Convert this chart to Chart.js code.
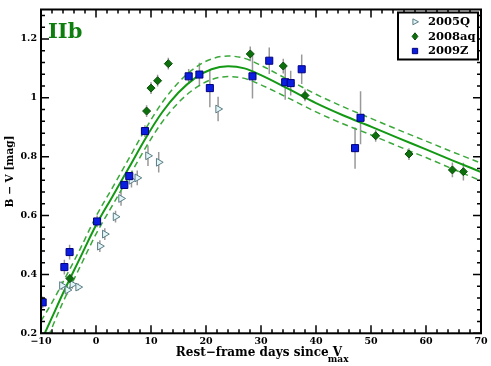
<!DOCTYPE html>
<html>
<head>
<meta charset="utf-8">
<script src="https://cdn.jsdelivr.net/npm/chart.js@4/dist/chart.umd.min.js"></script>
<style>
html, body { margin: 0; padding: 0; background: #fff; }
#wrap { width: 491px; height: 366px; }
</style>
</head>
<body>
<div id="wrap"><canvas id="bv-chart" width="491" height="366"></canvas></div>
<script>
// B-V colour curves of SNe IIb, days since V maximum
const q05Days = [-6.2, -5.2, -4.3, -3.25, 0.7, 1.6, 3.55, 4.55, 6.45, 7.5, 9.45, 11.4, 22.2];
const q05Color = [0.362, 0.347, 0.366, 0.357, 0.496, 0.537, 0.596, 0.658, 0.72, 0.728, 0.803, 0.781, 0.962];
const q05Err = [0.015, 0.015, 0.015, 0.012, 0.02, 0.02, 0.02, 0.025, 0.025, 0.025, 0.035, 0.035, 0.042];

const aq08Days = [-4.75, 9.2, 10.0, 11.2, 13.15, 28.05, 34.05, 38.0, 50.85, 56.9, 64.8, 66.8];
const aq08Color = [0.386, 0.955, 1.033, 1.058, 1.116, 1.149, 1.108, 1.008, 0.871, 0.809, 0.755, 0.749];
const aq08Err = [0.015, 0.02, 0.02, 0.02, 0.02, 0.025, 0.025, 0.02, 0.02, 0.02, 0.025, 0.03];

const z09Days = [-9.7, -5.75, -4.8, 0.2, 5.15, 6.05, 8.9, 16.85, 18.8, 20.7, 28.45, 31.5, 34.4, 35.4, 37.4, 47.1, 48.1];
const z09Color = [0.305, 0.425, 0.476, 0.58, 0.704, 0.734, 0.887, 1.073, 1.079, 1.033, 1.073, 1.126, 1.053, 1.05, 1.097, 0.829, 0.932];
const z09Err = [0.02, 0.025, 0.025, 0.02, 0.012, 0.012, 0.02, 0.025, 0.04, 0.065, 0.075, 0.045, 0.06, 0.042, 0.05, 0.07, 0.09];

// template fit and its band
const fitDays = [-10, -8, -6, -3, 0, 3, 6, 9, 12, 15, 18, 21, 24, 27, 30, 35, 40, 45, 50, 55, 60, 65, 70];
const fitMid = [0.172, 0.254, 0.336, 0.452, 0.567, 0.665, 0.763, 0.862, 0.95, 1.018, 1.067, 1.097, 1.107, 1.1, 1.077, 1.03, 0.982, 0.94, 0.902, 0.863, 0.825, 0.786, 0.748];
const fitUpper = [0.242, 0.304, 0.374, 0.482, 0.597, 0.695, 0.794, 0.894, 0.983, 1.052, 1.102, 1.132, 1.142, 1.134, 1.11, 1.061, 1.012, 0.969, 0.93, 0.891, 0.853, 0.815, 0.778];
const fitLower = [0.127, 0.219, 0.306, 0.422, 0.537, 0.635, 0.732, 0.83, 0.917, 0.984, 1.032, 1.062, 1.072, 1.066, 1.044, 0.999, 0.952, 0.911, 0.874, 0.835, 0.797, 0.757, 0.718];

const xTicks = [-10, 0, 10, 20, 30, 40, 50, 60, 70];
const yTicks = [0.2, 0.4, 0.6, 0.8, 1, 1.2];

const SERIF = '"DejaVu Serif", "Liberation Serif", serif';
const toPoints = (xs, ys) => xs.map((v, i) => ({ x: v, y: ys[i] }));

const styles = {
  q05: { pointStyle: 'triangle', rotation: 90, radius: 4.5, fill: '#e2f5f7', stroke: '#5a7c84' },
  aq08: { pointStyle: 'rectRot', rotation: 0, radius: 4, fill: '#0d700d', stroke: '#0a4d0a' },
  z09: { pointStyle: 'rect', rotation: 0, radius: 5, fill: '#0b1ee0', stroke: '#000080' }
};

function markerSet(label, xs, ys, errs, s, order) {
  return {
    label,
    data: toPoints(xs, ys),
    errors: errs,
    pointStyle: s.pointStyle,
    rotation: s.rotation,
    pointRadius: s.radius,
    backgroundColor: s.fill,
    borderColor: s.stroke,
    borderWidth: 1,
    showLine: false,
    order
  };
}

function fitSet(ys, dashed, order) {
  return {
    label: '',
    data: toPoints(fitDays, ys),
    showLine: true,
    pointRadius: 0,
    borderColor: dashed ? '#3aa83a' : '#139913',
    borderWidth: dashed ? 1.5 : 2,
    borderDash: dashed ? [6, 4] : [],
    cubicInterpolationMode: 'monotone',
    fill: false,
    order
  };
}

function drawMarker(ctx, s, x, y, r) {
  ctx.save();
  ctx.fillStyle = s.fill;
  ctx.strokeStyle = s.stroke;
  ctx.lineWidth = 1;
  ctx.beginPath();
  if (s.pointStyle === 'triangle') {
    ctx.moveTo(x + r, y);
    ctx.lineTo(x - r * 0.6, y - r * 0.85);
    ctx.lineTo(x - r * 0.6, y + r * 0.85);
  } else if (s.pointStyle === 'rectRot') {
    ctx.moveTo(x, y - r);
    ctx.lineTo(x + r * 0.8, y);
    ctx.lineTo(x, y + r);
    ctx.lineTo(x - r * 0.8, y);
  } else {
    ctx.rect(x - r * 0.7, y - r * 0.7, r * 1.4, r * 1.4);
  }
  ctx.closePath();
  ctx.fill();
  ctx.stroke();
  ctx.restore();
}

const framePlugin = {
  id: 'frame',
  beforeDatasetsDraw(chart) {
    const { ctx, chartArea: a, scales: { x, y } } = chart;
    ctx.save();
    ctx.beginPath();
    ctx.rect(a.left, a.top, a.right - a.left, a.bottom - a.top);
    ctx.clip();
    ctx.strokeStyle = '#999';
    ctx.lineWidth = 1.5;
    ctx.beginPath();
    chart.data.datasets.forEach(ds => {
      if (!ds.errors) return;
      ds.data.forEach((p, i) => {
        const px = x.getPixelForValue(p.x);
        ctx.moveTo(px, y.getPixelForValue(p.y - ds.errors[i]));
        ctx.lineTo(px, y.getPixelForValue(p.y + ds.errors[i]));
      });
    });
    ctx.stroke();
    ctx.restore();
  },
  afterDraw(chart) {
    const { ctx, chartArea: a, scales: { x, y } } = chart;
    ctx.save();
    ctx.strokeStyle = '#000';

    // inward ticks on all four sides
    ctx.lineWidth = 1.5;
    ctx.beginPath();
    for (let k = 0; k <= 40; k++) {
      const v = -10 + k * 2;
      const len = k % 5 === 0 ? 8 : 4;
      const px = x.getPixelForValue(v);
      ctx.moveTo(px, a.bottom); ctx.lineTo(px, a.bottom - len);
      ctx.moveTo(px, a.top); ctx.lineTo(px, a.top + len);
    }
    for (let k = 0; k <= 27; k++) {
      const v = 0.2 + k * 0.04;
      const len = k % 5 === 0 ? 8 : 4;
      const py = y.getPixelForValue(v);
      ctx.moveTo(a.left, py); ctx.lineTo(a.left + len, py);
      ctx.moveTo(a.right, py); ctx.lineTo(a.right - len, py);
    }
    ctx.stroke();

    ctx.lineWidth = 2;
    ctx.strokeRect(a.left, a.top, a.right - a.left, a.bottom - a.top);

    // type label
    ctx.fillStyle = '#0e7e0e';
    ctx.font = 'bold 21px ' + SERIF;
    ctx.textBaseline = 'alphabetic';
    ctx.textAlign = 'left';
    ctx.fillText('IIb', 48, 37.5);

    // legend box
    const lx = 398, ly = 12.5, lw = 80, lh = 47;
    ctx.fillStyle = '#fff';
    ctx.fillRect(lx, ly, lw, lh);
    ctx.lineWidth = 2;
    ctx.strokeRect(lx, ly, lw, lh);
    const entries = [['2005Q', styles.q05, 3.5], ['2008aq', styles.aq08, 3.6], ['2009Z', styles.z09, 3.8]];
    ctx.font = 'bold 11.5px ' + SERIF;
    ctx.textBaseline = 'middle';
    entries.forEach(([name, s, r], i) => {
      const ry = 21.8 + i * 14.6;
      drawMarker(ctx, s, 415, ry, r);
      ctx.fillStyle = '#000';
      ctx.fillText(name, 428, ry + 0.5);
    });

    // x axis title with subscript
    const main = 'Rest\u2212frame days since V';
    ctx.font = 'bold 12px ' + SERIF;
    const w = ctx.measureText(main).width;
    const startX = 259 - w / 2;
    ctx.fillStyle = '#000';
    ctx.textBaseline = 'alphabetic';
    ctx.fillText(main, startX, 355.5);
    ctx.font = 'bold 9px ' + SERIF;
    ctx.textAlign = 'center';
    ctx.fillText('max', startX + w - 4, 362);
    ctx.restore();
  }
};

const tickFont = { family: SERIF, weight: 'bold', size: 9.5 };

new Chart(document.getElementById('bv-chart'), {
  type: 'scatter',
  data: {
    datasets: [
      markerSet('2005Q', q05Days, q05Color, q05Err, styles.q05, 3),
      markerSet('2008aq', aq08Days, aq08Color, aq08Err, styles.aq08, 2),
      markerSet('2009Z', z09Days, z09Color, z09Err, styles.z09, 1),
      fitSet(fitMid, false, 4),
      fitSet(fitUpper, true, 5),
      fitSet(fitLower, true, 6)
    ]
  },
  options: {
    responsive: false,
    animation: false,
    devicePixelRatio: 1,
    layout: { padding: { left: 0, top: 9.5, right: 10, bottom: 0 } },
    plugins: { legend: { display: false }, tooltip: { enabled: false } },
    scales: {
      x: {
        type: 'linear',
        min: -10,
        max: 70,
        grid: { display: false, drawTicks: false },
        border: { display: false },
        afterBuildTicks: scale => { scale.ticks = xTicks.map(v => ({ value: v })); },
        ticks: {
          font: tickFont,
          color: '#000',
          padding: 3,
          maxRotation: 0,
          autoSkip: false,
          callback: v => String(v).replace('-', '\u2212')
        },
        afterFit: scale => { scale.height = 32.7; scale.paddingLeft = 0; scale.paddingRight = 0; }
      },
      y: {
        type: 'linear',
        min: 0.2,
        max: 1.3,
        grid: { display: false, drawTicks: false },
        border: { display: false },
        afterBuildTicks: scale => { scale.ticks = yTicks.map(v => ({ value: v })); },
        ticks: {
          font: tickFont,
          color: '#000',
          padding: 4,
          autoSkip: false,
          callback: v => String(+Number(v).toFixed(1))
        },
        title: {
          display: true,
          text: 'B \u2212 V [mag]',
          color: '#000',
          font: { family: SERIF, weight: 'bold', size: 10.5 }
        },
        afterFit: scale => { scale.width = 41; scale.paddingTop = 0; scale.paddingBottom = 0; }
      }
    }
  },
  plugins: [framePlugin]
});
</script>
</body>
</html>
